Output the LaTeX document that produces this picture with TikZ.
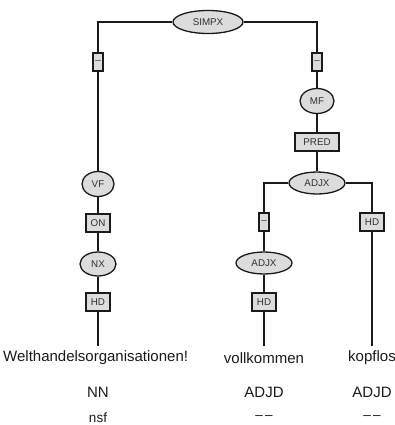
\documentclass[tikz,border=0pt]{standalone}
\usepackage{fontspec}
\setmainfont{Liberation Sans}
\usetikzlibrary{shapes.geometric}
\definecolor{boxfill}{HTML}{DCDCDC}
\definecolor{ink}{HTML}{1A1A1A}
\tikzset{
  lab/.style={font=\fontsize{9.8}{11}\selectfont, text=ink!90, fill=boxfill, draw=ink, line width=1.3pt, inner sep=0pt},
  cat/.style={lab, ellipse},
  fn/.style={lab, rectangle},
  edge/.style={draw=ink, line width=1.5pt},
  word/.style={font=\fontsize{15}{17}\selectfont, text=ink, inner sep=0pt},
  tag/.style={font=\fontsize{15}{17}\selectfont, text=ink, inner sep=0pt},
  morph/.style={font=\fontsize{13.5}{15}\selectfont, text=ink, inner sep=0pt},
}
\begin{document}
\begin{tikzpicture}[x=1pt,y=-1pt]
\useasboundingbox (0,0) rectangle (395,425);
% nodes
\node[cat, minimum width=70pt, minimum height=23pt] (simpx) at (208,22) {SIMPX};
\node[fn, minimum width=10pt, minimum height=18pt] (d1) at (98,62) {–};
\node[fn, minimum width=10pt, minimum height=18pt] (d2) at (317,62) {–};
\node[cat, minimum width=34pt, minimum height=25pt] (mf) at (317,101) {MF};
\node[fn, minimum width=44pt, minimum height=18pt] (pred) at (317,142) {PRED};
\node[cat, minimum width=56pt, minimum height=22pt] (adjx) at (317,183) {ADJX};
\node[fn, minimum width=10pt, minimum height=18pt] (d3) at (264,222) {–};
\node[fn, minimum width=24pt, minimum height=18pt] (hd3) at (372,222) {HD};
\node[cat, minimum width=56pt, minimum height=22pt] (adjx2) at (264,263) {ADJX};
\node[fn, minimum width=24pt, minimum height=18pt] (hd2) at (264,302) {HD};
\node[cat, minimum width=32pt, minimum height=25pt] (vf) at (98,184) {VF};
\node[fn, minimum width=24pt, minimum height=18pt] (on) at (98,223) {ON};
\node[cat, minimum width=36pt, minimum height=24pt] (nx) at (98,264) {NX};
\node[fn, minimum width=24pt, minimum height=18pt] (hd1) at (98,302) {HD};
% words
\begin{scope}
\clip (0,340) rectangle (186,375);
\node[word, anchor=west] (w1) at (3,358) {Welthandelsorganisationen!};
\end{scope}
\coordinate (w1top) at (98,346);
\coordinate (w2top) at (264,346);
\coordinate (w3top) at (372,346);
\node[word] (w2) at (264,358) {vollkommen};
\node[word] (w3) at (372,358) {kopflos};
\node[tag] (t1) at (98,392) {NN};
\node[tag] (t2) at (264,392) {ADJD};
\node[tag] (t3) at (372,392) {ADJD};
\node[morph] (m1) at (98,418) {nsf};
\node[morph] (m2) at (264,418) {–\kern2pt–};
\node[morph] (m3) at (372,418) {–\kern2pt–};
% edges
\draw[edge] (simpx.west) -| (d1.north);
\draw[edge] (simpx.east) -| (d2.north);
\draw[edge] (d1) -- (vf);
\draw[edge] (vf) -- (on);
\draw[edge] (on) -- (nx);
\draw[edge] (nx) -- (hd1);
\draw[edge] (hd1) -- (w1top);
\draw[edge] (d2) -- (mf);
\draw[edge] (mf) -- (pred);
\draw[edge] (pred) -- (adjx);
\draw[edge] (adjx.west) -| (d3.north);
\draw[edge] (adjx.east) -| (hd3.north);
\draw[edge] (d3) -- (adjx2);
\draw[edge] (adjx2) -- (hd2);
\draw[edge] (hd2) -- (w2top);
\draw[edge] (hd3) -- (w3top);
\end{tikzpicture}
\end{document}
